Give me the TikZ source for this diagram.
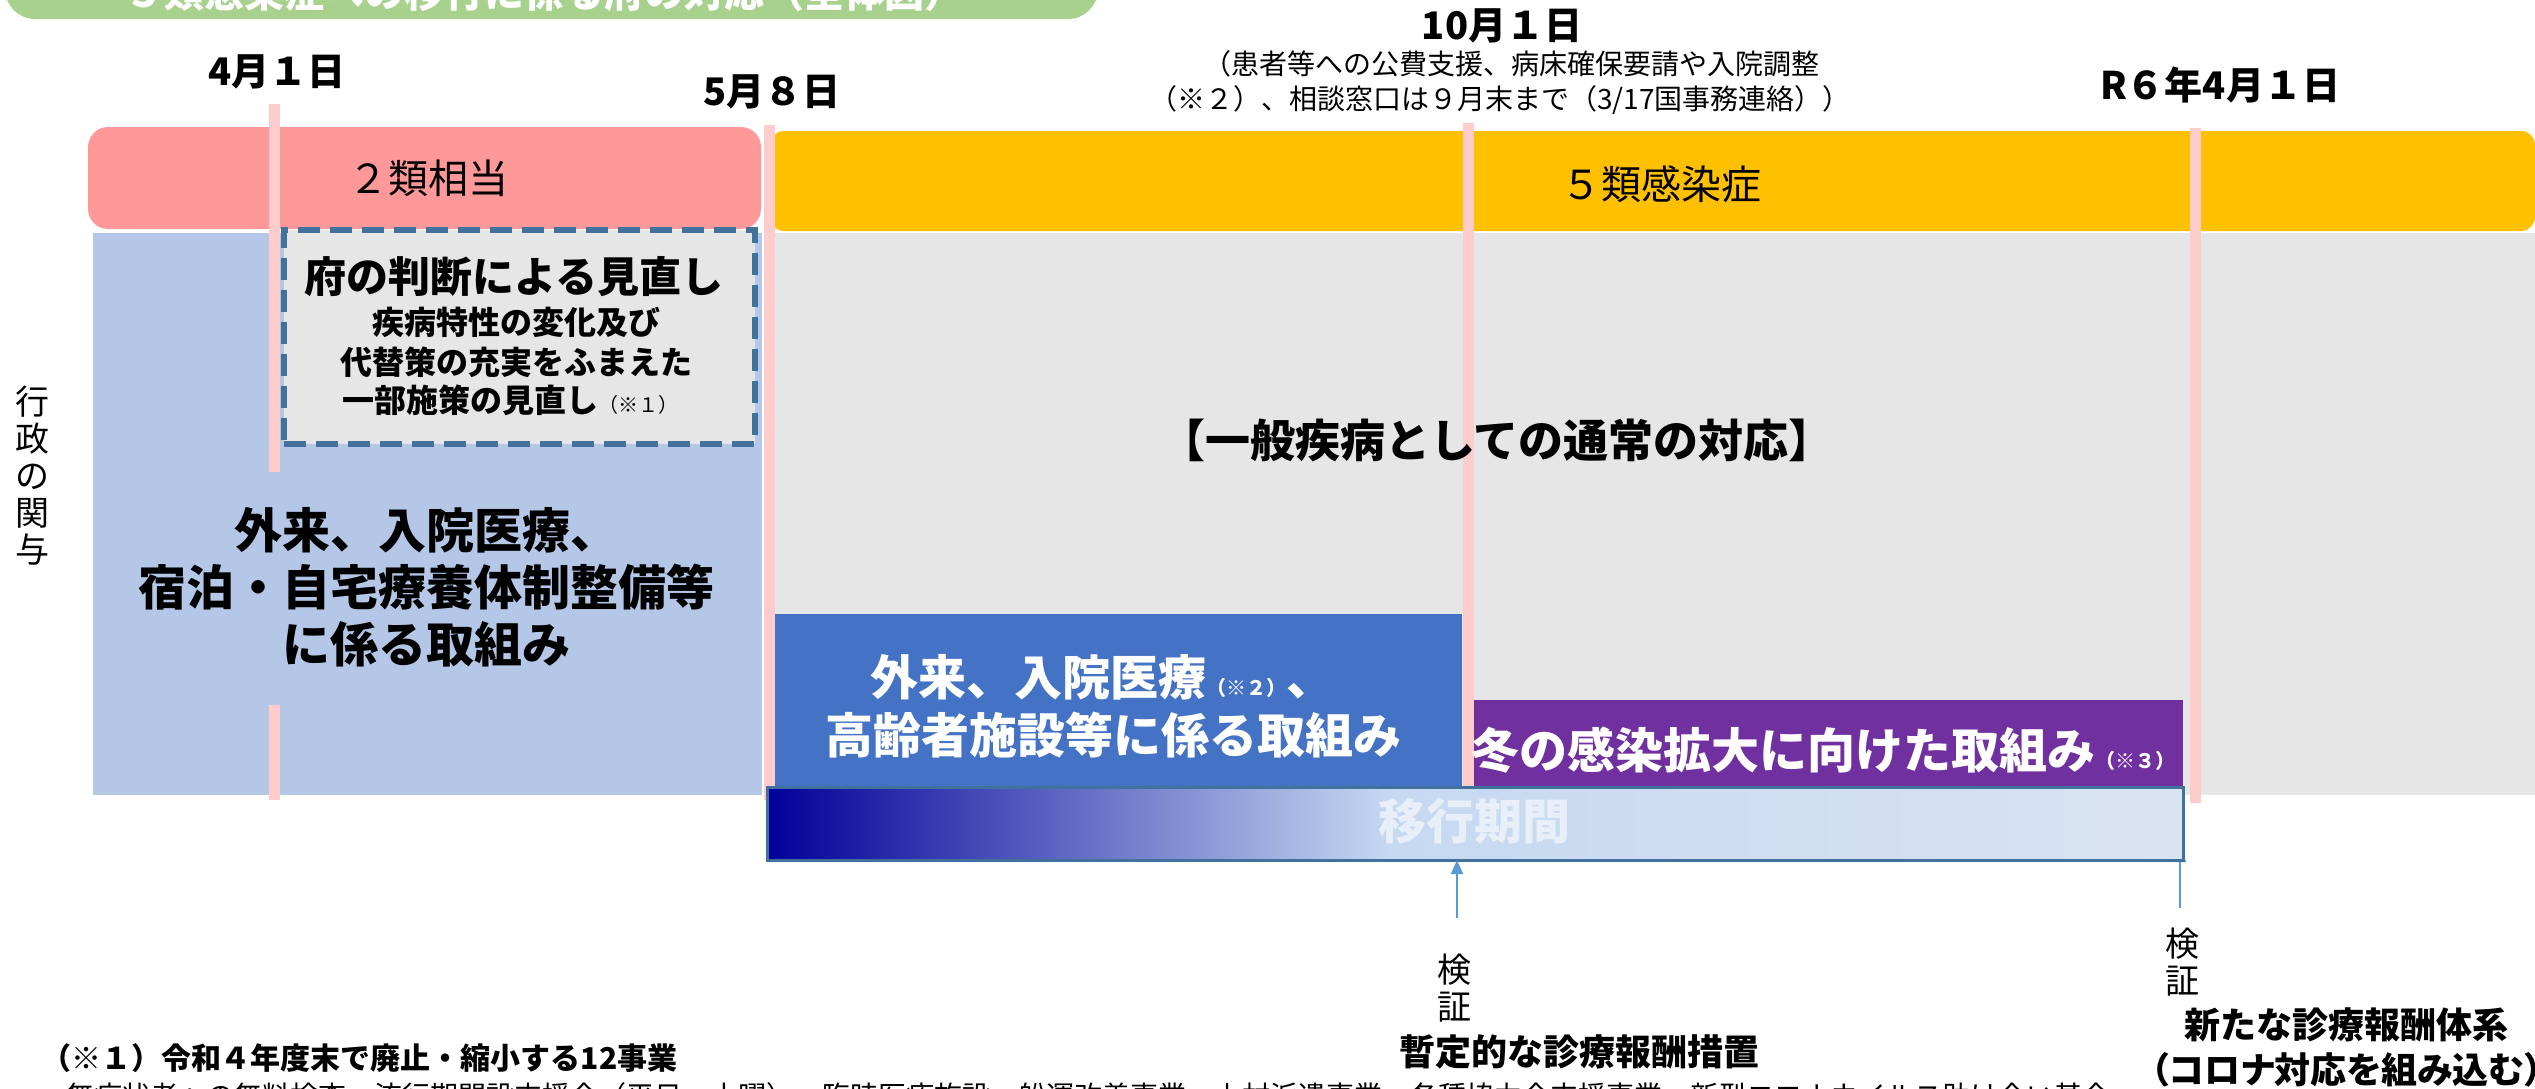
\documentclass[tikz,border=0pt]{standalone}
\usepackage{fontspec}
\setmainfont{Noto Sans CJK JP}
\newfontfamily\jpp{Noto Sans CJK JP}[RawFeature=+palt]
\usetikzlibrary{arrows.meta}
\newcommand\jfs[1]{\fontsize{#1}{#1}\selectfont}
\definecolor{greenbar}{HTML}{A9D18E}
\definecolor{pinkbar}{HTML}{FF9999}
\definecolor{yellowbar}{HTML}{FFC000}
\definecolor{lightblue}{HTML}{B4C7E7}
\definecolor{grayarea}{HTML}{E6E6E6}
\definecolor{bluebox}{HTML}{4472C4}
\definecolor{purplebox}{HTML}{7030A0}
\definecolor{pinkline}{HTML}{FFCCCC}
\definecolor{dashblue}{HTML}{41719C}
\definecolor{arrowblue}{HTML}{5B9BD5}
\definecolor{transtext}{HTML}{E8EFF9}
\definecolor{gA}{RGB}{0,0,153}
\definecolor{gB}{RGB}{197,217,241}
\definecolor{gC}{RGB}{218,227,243}
\pgfdeclarehorizontalshading{transgrad}{100bp}{color(0bp)=(gA); color(25bp)=(gA); color(47bp)=(gB); color(75bp)=(gC); color(100bp)=(gC)}
\tikzset{
  area/.style={inner sep=0pt, outer sep=0pt, draw=none},
  txt/.style={inner sep=0pt, outer sep=0pt},
  dateb/.style={txt, font={\jfs{38}\bfseries}},
  bandtxt/.style={txt, font={\jfs{40}}},
  notetxt/.style={txt, font={\jfs{28}}},
  bigb/.style={txt, font={\jfs{48}\bfseries}},
  boxb/.style={txt, font={\jfs{48}\bfseries}, text=white},
  pinkrule/.style={draw=pinkline, line width=11pt},
  vert/.style={txt, align=center, font={\fontsize{34}{37}\selectfont}},
  arr/.style={draw=arrowblue, line width=2pt, -{Triangle[length=14pt,width=12pt]}},
}
\begin{document}
\begin{tikzpicture}[x=1pt,y=-1pt]
\useasboundingbox (0,0) rectangle (2535,1088);
\clip (0,0) rectangle (2535,1088);
% title banner
\node[area, fill=greenbar, rounded corners=30pt, minimum width=1093pt, minimum height=80pt] (banner) at (551.5,-21) {};
\node[txt, font={\jfs{40}\bfseries}, text=white] (title) at (544,-8) {５類感染症への移行に係る府の対応（全体図）};
% dates
\node[dateb] (d1) at (277,72) {4月１日};
\node[dateb] (d2) at (772,92) {5月８日};
\node[dateb] (d3) at (1502,26) {10月１日};
\node[notetxt] (n1) at (1511,64) {（患者等への公費支援、病床確保要請や入院調整};
\node[notetxt] (n2) at (1500,100) {（※２）、相談窓口は９月末まで（3/17国事務連絡））};
\node[dateb] (d4) at (2220,85) {R６年4月１日};
% category bars
\node[area, fill=pinkbar, rounded corners=20pt, minimum width=673pt, minimum height=102pt] (cat2) at (424.5,178) {};
\node[bandtxt] (cat2t) at (428,178) {２類相当};
\node[area, fill=yellowbar, rounded corners=14pt, minimum width=1765pt, minimum height=100pt] (cat5) at (1652.5,181) {};
\node[bandtxt] (cat5t) at (1661,184) {５類感染症};
% areas
\node[area, fill=lightblue, minimum width=669pt, minimum height=562pt] (admin) at (427.5,514) {};
\node[area, fill=grayarea, minimum width=1767pt, minimum height=562pt] (normal) at (1651.5,514) {};
\node[area, fill=bluebox, minimum width=687pt, minimum height=181pt] (outpt) at (1118.5,704.5) {};
\node[area, fill=purplebox, minimum width=709pt, minimum height=90pt] (winter) at (1828.5,745) {};
% timeline rules
\draw[pinkrule] (274,104) -- (274,472);
\draw[pinkrule] (274,705) -- (274,800);
\draw[pinkrule] (769,125) -- (769,800);
\draw[pinkrule] (1468,123) -- (1468,800);
\draw[pinkrule] (2195,128) -- (2195,803);
% dashed review box
\node[area, fill=grayarea, draw=dashblue, line width=6pt, dash pattern=on 22pt off 10pt, minimum width=471pt, minimum height=214pt] (review) at (519.5,337) {};
\node[txt, font={\jfs{42}\bfseries}] (rv1) at (514,277) {府の判断による見直し};
\node[txt, font={\jfs{32}\bfseries}] (rv2) at (516,322) {疾病特性の変化及び};
\node[txt, font={\jfs{32}\bfseries}] (rv3) at (516,362) {代替策の充実をふまえた};
\node[txt, font={\jfs{32}\bfseries}] (rv4) at (510,400) {一部施策の見直し{\jfs{20}\mdseries（※１）}};
% texts in areas
\node[vert] (gyosei) at (33,476) {行\\政\\の\\関\\与};
\node[bigb] (a1) at (426,530) {外来、入院医療、};
\node[bigb] (a2) at (426,587) {宿泊・自宅療養体制整備等};
\node[bigb] (a3) at (426,644) {に係る取組み};
\node[txt, font={\jfs{45}\bfseries}] (ippan) at (1497,440) {【一般疾病としての通常の対応】};
\node[boxb] (b1) at (1102,677) {外来、入院医療{\jfs{20}（※２）}、};
\node[boxb] (b2) at (1113,735) {高齢者施設等に係る取組み};
\node[boxb] (w1) at (1823,750) {冬の感染拡大に向けた取組み{\jfs{20}（※３）}};
% arrows to the transition bar
\coordinate (k1) at (1457,918);
\coordinate (k2) at (2180,908);
\coordinate (k2e) at (2180,848);
\draw[arr] (k2) -- (k2e);
% transition bar
\node[area, shade, shading=transgrad, draw=dashblue, line width=3pt, minimum width=1416pt, minimum height=73pt] (trans) at (1475,823.5) {};
\node[txt, font={\jfs{48}\bfseries}, text=transtext] (transt) at (1474,821) {移行期間};
\draw[arr] (k1) -- (k1 |- trans.south);
% verification labels
\node[vert] (v1) at (1454,988) {検\\証};
\node[txt, font={\jfs{36}\bfseries}] (r1) at (1579,1052) {暫定的な診療報酬措置};
\node[vert] (v2) at (2182,962) {検\\証};
\node[txt, font={\jfs{36}\bfseries}] (r2) at (2346,1025) {新たな診療報酬体系};
\node[txt, font={\jpp\jfs{36}\bfseries}] (r3) at (2347,1070) {（コロナ対応を組み込む）};
% footnote
\node[txt, anchor=west, font={\jfs{30}\bfseries}] (fn1) at (41,1058) {（※１）令和４年度末で廃止・縮小する12事業};
\node[txt, anchor=west, font={\jfs{28}}] (fn2) at (66,1096) {無症状者への無料検査、流行期間設支援金（平日・土曜）、臨時医療施設・船運改善事業・上村派遣事業、各種協力金支援事業、新型コロナウイルス助け合い基金};
\end{tikzpicture}
\end{document}
